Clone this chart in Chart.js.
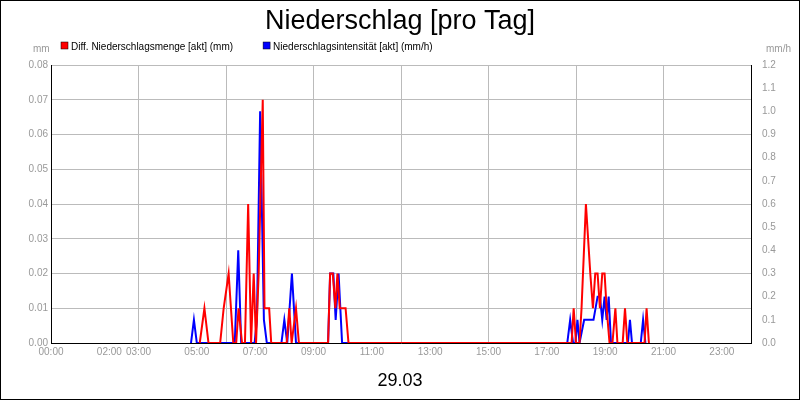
<!DOCTYPE html>
<html><head><meta charset="utf-8">
<script src="https://cdn.jsdelivr.net/npm/chart.js@4"></script>
<style>
html,body{margin:0;padding:0;background:#fff}
#wrap{width:798px;height:398px;border:1px solid #000;position:relative}
</style></head><body>
<div id="wrap"><canvas id="c" width="798" height="398"></canvas></div>
<script>
const redTimes = [5.1,5.26,5.4, 5.8,5.92,6.09,6.25,6.35,6.43,6.55,6.65,6.76,6.86,6.95,7.03,7.12,7.26,7.32,7.48,7.55,
  8.08,8.17,8.25,8.4,8.5, 9.5,9.57,9.66,9.75,9.82,9.9,9.98,10.1,10.2,
  17.85,17.92,18.0,18.12,18.19,18.34,18.49,18.58,18.66,18.74,18.82,18.9,18.98,19.05,19.15,19.25,19.35,19.42,19.6,19.68,19.76,20.35,20.42,20.5];
const redValues = [0,0.01,0, 0,0.01,0.02,0,0,0.01,0,0,0.04,0,0.02,0,0.02,0.07,0.01,0.01,0,
  0,0.01,0,0.01,0, 0,0.02,0.02,0.01,0.02,0.01,0.01,0.01,0,
  0,0.01,0,0,0.01,0.04,0.02,0.01,0.02,0.02,0.01,0.02,0.02,0.01,0,0,0.01,0,0,0.01,0,0,0.01,0];
const blueTimes = [4.8,4.9,5.0, 6.3,6.42,6.52, 6.98,7.06,7.17,7.3,7.4,7.48, 7.9,8.0,8.1,8.26,8.4,
  9.5,9.57,9.68,9.76,9.86,9.98,
  17.7,17.8,17.9,17.98,18.05,18.12,18.28,18.6,18.74,18.82,18.9,18.98,19.05,19.12,19.2,19.3, 19.78,19.85,19.92,20.22,20.3,20.38];
const blueValues = [0,0.1,0, 0,0.4,0, 0,0.1,1.0,0.1,0,0, 0,0.1,0,0.3,0, 0,0.3,0.3,0.1,0.3,0,
  0,0.1,0,0,0.1,0,0.1,0.1,0.2,0.2,0.1,0.2,0.1,0.2,0,0, 0,0.1,0,0,0.1,0];
const xLabelHours = [0,2,3,5,7,9,11,13,15,17,19,21,23];
const xGridHours = [0,3,6,9,12,15,18,21,24];
const title = 'Niederschlag [pro Tag]';
const legendItems = [['Diff. Niederschlagsmenge [akt] (mm)','#ff0000'],['Niederschlagsintensität [akt] (mm/h)','#0000ff']];
const dateLabel = '29.03';

const allTicks = [...new Set([...xLabelHours, ...xGridHours])].sort((a,b)=>a-b);
const pad = n => String(n).padStart(2,'0') + ':00';
const toPts = (t,v) => t.map((x,i)=>({x:x,y:v[i]}));

const deco = {
  id:'deco',
  afterDraw(chart){
    const ctx = chart.ctx;
    ctx.save();
    ctx.fillStyle='#000';
    ctx.textAlign='center'; ctx.textBaseline='alphabetic';
    ctx.font='27px "Liberation Sans", Arial';
    ctx.fillText(title,399,28);
    ctx.font='18px "Liberation Sans", Arial';
    ctx.fillText(dateLabel,399,385);
    ctx.font='10px "Liberation Sans", Arial';
    ctx.fillStyle='#999';
    ctx.textAlign='left'; ctx.fillText('mm',32,51);
    ctx.textAlign='right'; ctx.fillText('mm/h',790,51);
    let x=60;
    ctx.textAlign='left';
    legendItems.forEach(([txt,col])=>{
      ctx.fillStyle=col; ctx.fillRect(x,41,7,7);
      ctx.strokeStyle='#000'; ctx.lineWidth=0.5; ctx.strokeRect(x,41,7,7);
      ctx.fillStyle='#000'; ctx.fillText(txt,x+10,49);
      x+=ctx.measureText(txt).width+22+(x===60?18:0);
    });
    ctx.restore();
  }
};

new Chart(document.getElementById('c'),{
  type:'line',
  data:{datasets:[
    {data:toPts(redTimes,redValues),borderColor:'#ff0000',borderWidth:2,pointRadius:0,yAxisID:'y',order:1},
    {data:toPts(blueTimes,blueValues),borderColor:'#0000ff',borderWidth:2,pointRadius:0,yAxisID:'y1',order:2}
  ]},
  options:{
    responsive:false,animation:false,
    layout:{padding:{top:64,bottom:36,left:0,right:0}},
    plugins:{legend:{display:false},tooltip:{enabled:false}},
    scales:{
      x:{type:'linear',min:0,max:24,
        afterBuildTicks:s=>{s.ticks=allTicks.map(v=>({value:v}));},
        afterFit:s=>{s.height=20;},
        ticks:{autoSkip:false,maxRotation:0,color:'#999',font:{size:10,family:'"Liberation Sans", Arial'},
          callback:v=>xLabelHours.includes(v)?pad(v):''},
        grid:{color:c=>xGridHours.includes(c.tick.value)?'#bbbbbb':'rgba(0,0,0,0)',drawTicks:false},
        border:{color:'#000'}},
      y:{position:'left',min:0,max:0.08,
        afterFit:s=>{s.width=50;},
        ticks:{stepSize:0.01,color:'#999',font:{size:10,family:'"Liberation Sans", Arial'},callback:v=>v.toFixed(2)},
        grid:{color:'#bbbbbb',drawTicks:false},border:{color:'#000'}},
      y1:{position:'right',min:0,max:1.2,
        afterFit:s=>{s.width=48;},
        ticks:{stepSize:0.1,color:'#999',font:{size:10,family:'"Liberation Sans", Arial'},callback:v=>v.toFixed(1)},
        grid:{display:false},border:{color:'#000'}}
    }
  },
  plugins:[deco]
});
</script>
</body></html>
